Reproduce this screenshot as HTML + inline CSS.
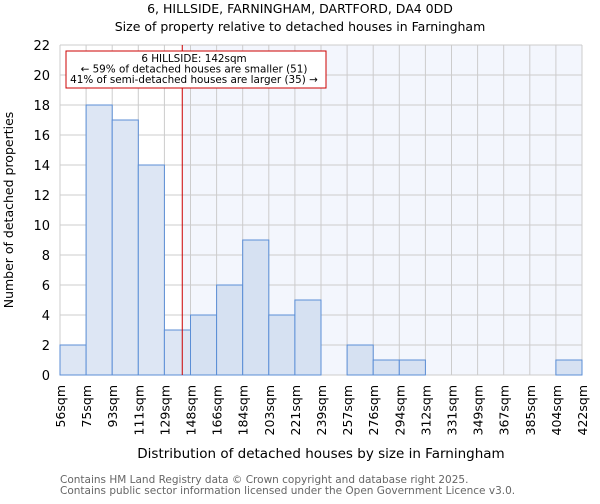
<!DOCTYPE html>
<html><head><meta charset="utf-8"><style>
body{margin:0;background:#fff;font-family:"DejaVu Sans","Liberation Sans",sans-serif}
</style></head><body>
<svg id="c" width="600" height="500" xmlns="http://www.w3.org/2000/svg" font-family="DejaVu Sans, Liberation Sans, sans-serif">
<text x="300" y="13" text-anchor="middle" font-size="12.5">6, HILLSIDE, FARNINGHAM, DARTFORD, DA4 0DD</text>
<text x="300" y="31" text-anchor="middle" font-size="12.5">Size of property relative to detached houses in Farningham</text>
<g id="plot"></g>
<text x="321" y="458" text-anchor="middle" font-size="13.5">Distribution of detached houses by size in Farningham</text>
<text transform="translate(13,210) rotate(-90)" text-anchor="middle" font-size="12.5">Number of detached properties</text>
<text x="60" y="483" font-size="10.5" fill="#666">Contains HM Land Registry data © Crown copyright and database right 2025.</text>
<text x="60" y="494" font-size="10.5" fill="#666">Contains public sector information licensed under the Open Government Licence v3.0.</text>
</svg>
<script>
const binLabels=["56sqm","75sqm","93sqm","111sqm","129sqm","148sqm","166sqm","184sqm","203sqm","221sqm","239sqm","257sqm","276sqm","294sqm","312sqm","331sqm","349sqm","367sqm","385sqm","404sqm","422sqm"];
const binEdges=[56,75,93,111,129,148,166,184,203,221,239,257,276,294,312,331,349,367,385,404,422];
const counts=[2,18,17,14,3,4,6,9,4,5,0,2,1,1,0,0,0,0,0,1];
const yTicks=[0,2,4,6,8,10,12,14,16,18,20,22];
const propertySize=142;
const NS="http://www.w3.org/2000/svg";
const X0=60,X1=582,Y0=375,Y1=45,YMAX=22;
const nb=counts.length,bw=(X1-X0)/nb;
const xi=i=>X0+i*bw;
const y=v=>Y0-(v/YMAX)*(Y0-Y1);
function xs(v){for(let i=0;i<nb;i++){if(v<=binEdges[i+1])return xi(i)+(v-binEdges[i])/(binEdges[i+1]-binEdges[i])*bw;}return X1;}
const g=document.getElementById('plot');
function mk(t,a){const e=document.createElementNS(NS,t);for(const k in a)e.setAttribute(k,a[k]);g.appendChild(e);return e;}
const mx=xs(propertySize);
let e=mk('rect',{x:mx,y:Y1,width:X1-mx,height:Y0-Y1,fill:'#f3f6fd'});


for(let i=0;i<=nb;i++){e=mk('line',{x1:xi(i),x2:xi(i),y1:Y1,y2:Y0,stroke:'#ccc','stroke-width':1});

}
yTicks.forEach(t=>{e=mk('line',{x1:X0,x2:X1,y1:y(t),y2:y(t),stroke:'#ccc','stroke-width':1});


e=mk('text',{x:X0-10,y:y(t)+5,'text-anchor':'end','font-size':13});e.textContent=t;

});
counts.forEach((c,i)=>{if(c<=0)return;
e=mk('rect',{x:xi(i),y:y(c),width:bw,height:y(0)-y(c),fill:xi(i)>=mx?'#d6e1f2':'#dde6f4',stroke:'#5b8ed6','stroke-width':1});

});
binLabels.forEach((l,i)=>{e=mk('text',{transform:`translate(${xi(i)+5},385) rotate(-90)`,'text-anchor':'end','font-size':12.5});e.textContent=l;

});
e=mk('line',{x1:mx,x2:mx,y1:Y1,y2:Y0,stroke:'#cc0000','stroke-width':1});


e=mk('rect',{x:66,y:51,width:260,height:37,fill:'#fff',stroke:'#cc0000','stroke-width':1});


["6 HILLSIDE: 142sqm","← 59% of detached houses are smaller (51)","41% of semi-detached houses are larger (35) →"].forEach((t,k)=>{
e=mk('text',{x:194,y:62+k*10.5,'text-anchor':'middle','font-size':10.4});e.textContent=t;

});
</script>
</body></html>
